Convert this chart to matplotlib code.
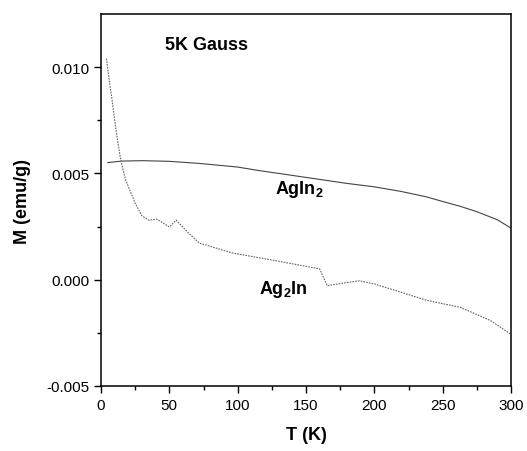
import numpy as np
import matplotlib
matplotlib.use("Agg")
import matplotlib.pyplot as plt

plt.rcParams.update({
    "font.family": ["Liberation Sans", "DejaVu Sans"],
    "mathtext.fontset": "custom",
    "mathtext.rm": "Liberation Sans",
    "mathtext.bf": "Liberation Sans:bold",
})

# AgIn2 curve (solid)
T_agin2 = [5, 15, 30, 50, 72, 100, 115, 145, 180, 200, 219, 238, 250, 263, 275, 290, 300]
M_agin2 = [0.00551, 0.00558, 0.00560, 0.00557, 0.00547, 0.00530, 0.00514, 0.00486,
           0.00453, 0.00437, 0.00416, 0.00390, 0.00368, 0.00345, 0.00320, 0.00282, 0.00243]

# Ag2In curve (dotted)
T_ag2in = [4, 5, 6, 8, 10, 12, 14, 16, 18, 20.5, 25, 30, 35, 41, 50, 55, 64, 72, 79, 96, 116,
           140, 160, 165.5, 175, 189, 200, 220, 239, 263, 285, 300]
M_ag2in = [0.0104, 0.0099, 0.0094, 0.0085, 0.0075, 0.0066, 0.0058, 0.0052, 0.0047, 0.0043,
           0.0036, 0.0030, 0.0028, 0.00285, 0.00248, 0.0028, 0.0022, 0.00172, 0.00159,
           0.00126, 0.00103, 0.00075, 0.00051, -0.00028, -0.00018, -0.00005, -0.00020,
           -0.00060, -0.00098, -0.00130, -0.00192, -0.00257]

xticks = [0, 50, 100, 150, 200, 250, 300]
yticks = [-0.005, 0.000, 0.005, 0.010]
ytick_labels = ["-0.005", "0.000", "0.005", "0.010"]

fig = plt.figure(figsize=(5.27, 4.52), dpi=100)
ax = fig.add_axes([101/527, 65/452, 410/527, 372/452])

ax.plot(T_agin2, M_agin2, color="#444444", lw=0.8, ls="-")
ax.plot(T_ag2in, M_ag2in, color="#666666", lw=0.8, ls=(0, (1.5, 1)))

ax.set_xlim(0, 300)
ax.set_ylim(-0.005, 0.0125)
ax.set_xticks(xticks)
ax.set_xticks([25, 75, 125, 175, 225, 275], minor=True)
ax.set_yticks(yticks)
ax.set_yticklabels(ytick_labels)
ax.set_yticks([-0.0025, 0.0025, 0.0075], minor=True)

ax.tick_params(which="both", direction="out", top=False, right=False, labelsize=11, width=1.0)
ax.tick_params(which="major", length=5)
ax.tick_params(which="minor", length=3)
for sp in ax.spines.values():
    sp.set_linewidth(1.1)

ax.set_xlabel("T (K)", fontsize=13, fontweight="bold", labelpad=10)
ax.set_ylabel("M (emu/g)", fontsize=13, fontweight="bold", labelpad=11)

ax.text(77, 0.01107, "5K Gauss", fontsize=13, fontweight="bold", ha="center", va="center")
ax.text(145, 0.0043, r"AgIn$_{\mathbf{2}}$", fontsize=13, fontweight="bold", ha="center", va="center")
ax.text(133.5, -0.00042, r"Ag$_{\mathbf{2}}$In", fontsize=13, fontweight="bold", ha="center", va="center")

fig.savefig("out.png", dpi=100)
